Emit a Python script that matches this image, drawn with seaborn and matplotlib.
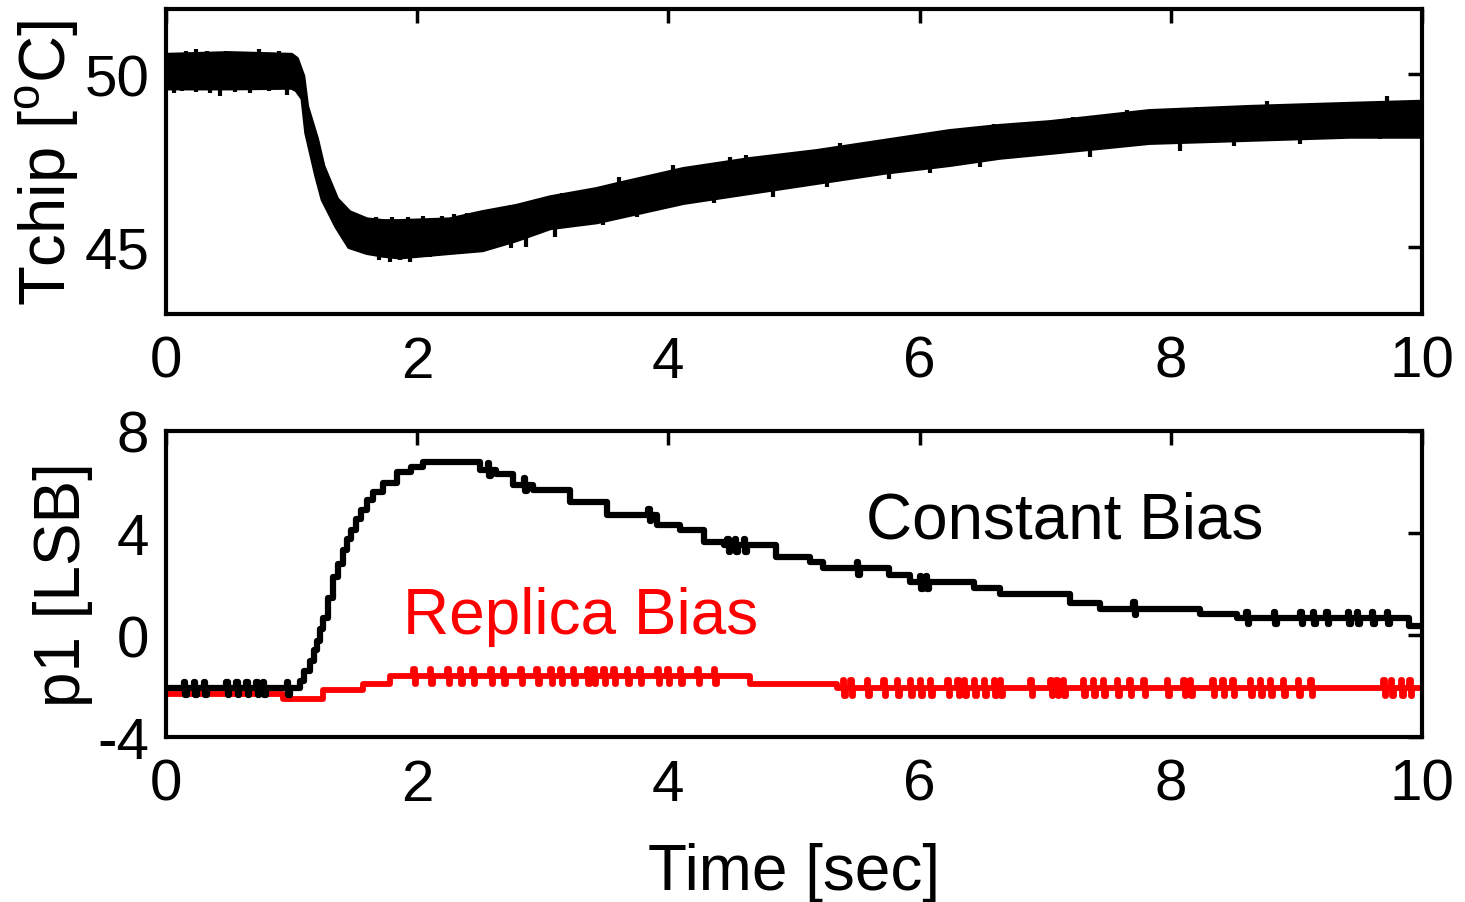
import numpy as np
import pandas as pd
import seaborn as sns
import matplotlib.pyplot as plt

# ==============================
# Data
# ==============================
# top panel: chip temperature, upper / lower edge of the noisy trace [degC]
chip_t = [0.0, 0.5, 1.0, 1.04, 1.09, 1.12, 1.20, 1.25, 1.36, 1.46, 1.60, 1.73,
          1.86, 2.26, 2.52, 2.79, 3.06, 3.43, 3.59, 4.12, 4.65, 5.18, 5.71,
          6.24, 6.64, 7.04, 7.83, 8.63, 9.43, 10.0]
chip_hi = [50.55, 50.60, 50.55, 50.44, 49.94, 49.07, 48.11, 47.33, 46.37, 45.99,
           45.78, 45.73, 45.73, 45.78, 45.99, 46.17, 46.42, 46.66, 46.80, 47.24,
           47.53, 47.76, 48.05, 48.34, 48.49, 48.60, 48.92, 49.04, 49.13, 49.19]
chip_lo = [49.60, 49.60, 49.62, 49.55, 49.30, 48.30, 47.05, 46.37, 45.58, 45.00,
           44.83, 44.75, 44.70, 44.83, 44.91, 45.20, 45.55, 45.72, 45.85, 46.28,
           46.57, 46.86, 47.15, 47.38, 47.59, 47.73, 48.02, 48.11, 48.20, 48.20]

# noise spikes sticking out of the band: (time, tip value)
chip_up_t = [0.05, 0.16, 0.24, 0.33, 0.48, 0.60, 0.74, 0.90, 1.67, 1.80, 1.93,
             2.05, 2.20, 2.29, 2.40, 2.60, 2.75, 2.95, 3.15, 3.35, 3.61, 4.04,
             4.49, 4.62, 5.37, 5.98, 6.59, 7.22, 7.65, 8.21, 8.77, 9.72, 9.96]
chip_up_v = [50.62, 50.68, 50.72, 50.66, 50.68, 50.64, 50.72, 50.66, 45.85, 45.85,
             45.85, 45.88, 45.90, 45.95, 45.98, 46.10, 46.22, 46.35, 46.55, 46.65,
             47.03, 47.38, 47.59, 47.67, 48.02, 48.20, 48.55, 48.75, 48.95, 49.04,
             49.22, 49.36, 49.22]
chip_dn_t = [0.06, 0.13, 0.24, 0.35, 0.43, 0.55, 0.67, 0.82, 0.96, 1.62, 1.70,
             1.78, 1.86, 1.94, 2.10, 2.35, 2.75, 2.87, 3.10, 3.48, 3.75, 4.36,
             4.44, 4.83, 5.26, 5.76, 6.08, 6.48, 7.36, 8.07, 8.50, 9.03, 9.67]
chip_dn_v = [49.45, 49.50, 49.48, 49.47, 49.36, 49.48, 49.45, 49.50, 49.40, 44.75,
             44.60, 44.56, 44.60, 44.56, 44.70, 44.80, 44.95, 45.00, 45.29, 45.64,
             45.87, 46.28, 46.45, 46.45, 46.74, 46.95, 47.15, 47.30, 47.59, 47.76,
             47.91, 47.97, 48.11]

# bottom panel: p1 staircases [LSB], value holds from each time to the next
const_t = [0.0, 1.07, 1.10, 1.15, 1.18, 1.20, 1.23, 1.25, 1.29, 1.33, 1.37, 1.41,
           1.44, 1.47, 1.51, 1.55, 1.60, 1.65, 1.73, 1.84, 1.95, 2.05, 2.50, 2.63,
           2.76, 2.92, 3.22, 3.51, 3.91, 4.09, 4.28, 4.44, 4.86, 5.13, 5.23, 5.76,
           5.92, 6.43, 6.64, 7.20, 7.44, 8.23, 8.53, 9.90, 10.0]
const_v = [-2.09, -1.82, -1.40, -1.03, -0.60, -0.24, 0.25, 0.67, 1.45, 2.26, 2.80,
           3.32, 3.75, 4.12, 4.55, 4.91, 5.30, 5.62, 5.98, 6.38, 6.57, 6.77, 6.49,
           6.30, 5.90, 5.70, 5.23, 4.71, 4.32, 4.12, 3.64, 3.52, 3.05, 2.85, 2.61,
           2.34, 2.06, 1.86, 1.62, 1.27, 1.03, 0.83, 0.67, 0.35, 0.35]
const_spike_t = [0.14, 0.22, 0.30, 0.48, 0.56, 0.64, 0.72, 0.77, 0.96, 2.56, 2.85,
                 3.84, 4.47, 4.53, 4.60, 5.50, 6.00, 6.05, 7.70, 8.60, 8.82, 9.03,
                 9.13, 9.24, 9.41, 9.48, 9.60, 9.72]
const_spike_d = 0.25

replica_t = [0.0, 0.93, 1.25, 1.57, 1.78, 4.65, 5.34, 10.0]
replica_v = [-2.30, -2.49, -2.14, -1.94, -1.62, -1.94, -2.08, -2.08]
replica_spike_t = [1.97, 2.10, 2.24, 2.34, 2.44, 2.58, 2.68, 2.82, 2.95, 3.06,
                   3.14, 3.24, 3.35, 3.40, 3.48, 3.56, 3.67, 3.77, 3.91, 3.99,
                   4.09, 4.23, 4.36, 5.39, 5.45, 5.58, 5.71, 5.82, 5.92, 6.00,
                   6.08, 6.22, 6.30, 6.35, 6.43, 6.51, 6.59, 6.64, 6.88, 7.04,
                   7.09, 7.14, 7.30, 7.38, 7.46, 7.57, 7.67, 7.78, 7.97, 8.10,
                   8.15, 8.33, 8.41, 8.49, 8.63, 8.71, 8.79, 8.89, 9.01, 9.11,
                   9.69, 9.75, 9.83, 9.90]
replica_spike_d = 0.3


def with_spikes(t, v, spike_t, d, w=0.012):
    # short up/down toggles around the current level
    t = np.asarray(t)
    pts = list(zip(t, v))
    for ts in spike_t:
        base = v[np.searchsorted(t, ts, side="right") - 1]
        pts += [(ts, base + d), (ts + w, base - d), (ts + 2 * w, base)]
    pts.sort()
    return pd.DataFrame(pts, columns=["t", "v"])


const_df = with_spikes(const_t, const_v, const_spike_t, const_spike_d)
replica_df = with_spikes(replica_t, replica_v, replica_spike_t, replica_spike_d)

# ==============================
# Style
# ==============================
sns.set_theme(style="white")
plt.rcParams["font.family"] = ["Liberation Sans", "DejaVu Sans"]
plt.rcParams["mathtext.fontset"] = "custom"
plt.rcParams["mathtext.rm"] = "Liberation Sans"
plt.rcParams["axes.unicode_minus"] = False
plt.rcParams["text.color"] = "black"
plt.rcParams["axes.labelcolor"] = "black"

fig = plt.figure(figsize=(14.65, 9.03), dpi=100)
ax1 = fig.add_axes([0.1133, 0.6512, 0.8573, 0.3377])
ax2 = fig.add_axes([0.1133, 0.1827, 0.8573, 0.3389])

for ax in (ax1, ax2):
    for s in ax.spines.values():
        s.set_linewidth(3)
        s.set_color("black")
    ax.tick_params(direction="in", length=10, width=2.5, top=True, right=True,
                   labelsize=42, pad=12, colors="black")
    ax.tick_params(axis="x", pad=15)
    ax.set_xlim(0, 10)
    ax.set_xticks(range(0, 11, 2))

# ==============================
# Top: Tchip
# ==============================
ax1.fill_between(chip_t, chip_lo, chip_hi, color="black", lw=0)
sns.lineplot(x=chip_t, y=chip_hi, ax=ax1, color="black", linewidth=3.5)
sns.lineplot(x=chip_t, y=chip_lo, ax=ax1, color="black", linewidth=3.5)
ax1.vlines(chip_up_t, np.array(chip_up_v) - 0.6, chip_up_v, color="black", lw=3)
ax1.vlines(chip_dn_t, chip_dn_v, np.array(chip_dn_v) + 0.6, color="black", lw=3)
ax1.set_ylim(43.05, 51.89)
ax1.set_yticks([45, 50])
ax1.set_ylabel(r"Tchip [$^{\mathrm{o}}$C]", fontsize=47)
ax1.yaxis.set_label_coords(-0.068, 0.5)

# ==============================
# Bottom: p1
# ==============================
sns.lineplot(data=replica_df, x="t", y="v", ax=ax2, color="#ff0000",
             linewidth=4.2, drawstyle="steps-post", estimator=None, sort=False)
sns.lineplot(data=const_df, x="t", y="v", ax=ax2, color="black",
             linewidth=4.5, drawstyle="steps-post", estimator=None, sort=False)
ax2.set_ylim(-4, 8)
ax2.set_yticks([-4, 0, 4, 8])
ax2.set_ylabel("p1 [LSB]", fontsize=46)
ax2.yaxis.set_label_coords(-0.058, 0.5)
ax2.set_xlabel("Time [sec]", fontsize=46, labelpad=22)

ax2.text(5.57, 4.5, "Constant Bias", fontsize=46, color="black", va="center")
ax2.text(1.89, 0.75, "Replica Bias", fontsize=46, color="#ff0000", va="center")

plt.savefig("out.png", dpi=100)
